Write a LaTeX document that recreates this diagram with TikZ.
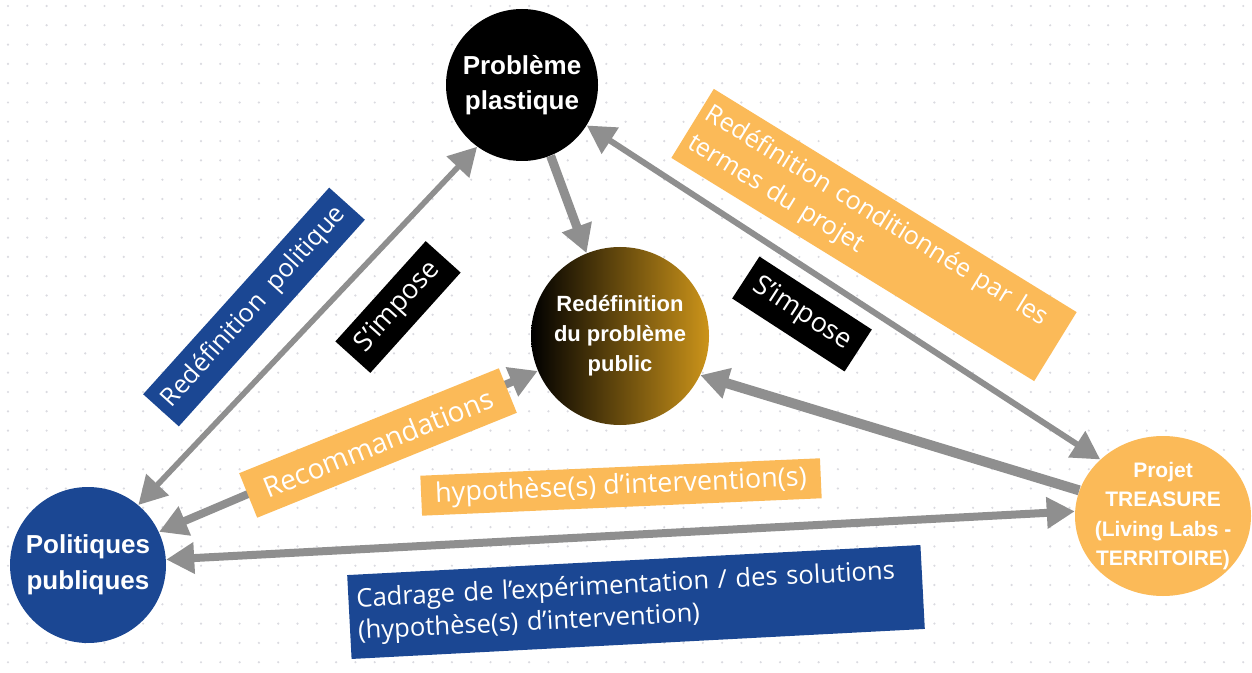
\documentclass[tikz,border=0pt]{standalone}
\usepackage{fontspec}
\setmainfont{Open Sans}
\newfontfamily\headfont{Liberation Sans}
\usetikzlibrary{arrows.meta,shapes.geometric}
\definecolor{polblue}{RGB}{27,71,147}
\definecolor{projorange}{RGB}{251,186,88}
\definecolor{linkgray}{RGB}{143,143,143}
\definecolor{gold}{RGB}{204,148,26}
\definecolor{dotgray}{RGB}{218,218,224}
\tikzset{
  actor/.style={circle, inner sep=0pt, text=white, align=center},
  tag/.style={inner sep=0pt, text=white, font=\fontsize{12.7}{17}\selectfont},
  link/.style={draw=linkgray, line width=#1},
  link/.default=4pt,
  >={Triangle[length=14pt,width=15pt]}
}
\begin{document}
\begin{tikzpicture}[x=0.5pt,y=-0.5pt]
  \useasboundingbox (0,0) rectangle (1252,673);
  \fill[white] (0,0) rectangle (1252,673);
  \foreach \i in {0,...,64} {
    \foreach \j in {0,...,34} {
      \fill[dotgray] (8+\i*19.3,6+\j*19.3) circle (0.6pt);
    }
  }
  \node[actor, fill=black, minimum size=76pt, font=\headfont\bfseries\fontsize{13}{17.5}\selectfont] (prob) at (522,85) {Problème\\plastique};
  \node[actor, left color=black, right color=gold, minimum size=89pt, font=\headfont\bfseries\fontsize{11}{15}\selectfont] (redef) at (620,336) {Redéfinition\\du problème\\public};
  \node[actor, fill=polblue, minimum size=78pt, font=\headfont\bfseries\fontsize{13}{18}\selectfont] (pol) at (88,565) {Politiques\\publiques};
  \node[ellipse, fill=projorange, minimum width=88pt, minimum height=80pt] (proj) at (1163,516) {};
  \node[text=white, align=center, font=\headfont\bfseries\fontsize{10.5}{14.8}\selectfont] (projtext) at (proj) {Projet\\TREASURE\\(Living Labs -\\TERRITOIRE)};
  \draw[link=2.8pt, <->] (pol.50) -- (prob.234);
  \draw[link=4.5pt, ->] (prob.292) -- (redef.112);
  \draw[link=3pt, <->] (prob.328) -- (proj.138);
  \draw[link=5pt, ->] (proj.163) -- (redef.334);
  \draw[link=4pt, <->] (pol.25) -- (redef.203);
  \draw[link=4pt, <->] (pol.4) -- (proj.177);
  \node[tag, fill=polblue, minimum width=139pt, minimum height=24pt, rotate=48] (redpol) at (254,307) {Redéfinition\ \ politique};
  \node[tag, fill=black, minimum width=67.5pt, minimum height=23.5pt, rotate=48, font=\fontsize{13.5}{17}\selectfont] (imposeL) at (398,307) {S’impose};
  \node[tag, fill=black, minimum width=67pt, minimum height=25pt, rotate=-33, font=\fontsize{13.5}{17}\selectfont] (imposeR) at (802,314) {S’impose};
  \node[tag, fill=projorange, minimum width=213pt, minimum height=40.5pt, rotate=-31.6, align=left, text width=206pt] (redcond) at (874,235) {Redéfinition conditionnée par les\\termes du projet};
  \node[tag, fill=projorange, minimum width=140pt, minimum height=24pt, rotate=22, font=\fontsize{14}{17}\selectfont] (recom) at (378,443) {Recommandations};
  \node[tag, fill=projorange, minimum width=200pt, minimum height=20pt, rotate=2.5, font=\fontsize{13.5}{17}\selectfont] (hyp) at (621,487) {hypothèse(s) d’intervention(s)};
  \node[tag, fill=polblue, minimum width=287pt, minimum height=42pt, rotate=3, align=left, text width=279pt, font=\fontsize{12.8}{16}\selectfont] (cadr) at (636,602) {Cadrage de l’expérimentation / des solutions\\(hypothèse(s) d’intervention)};
\end{tikzpicture}
\end{document}
